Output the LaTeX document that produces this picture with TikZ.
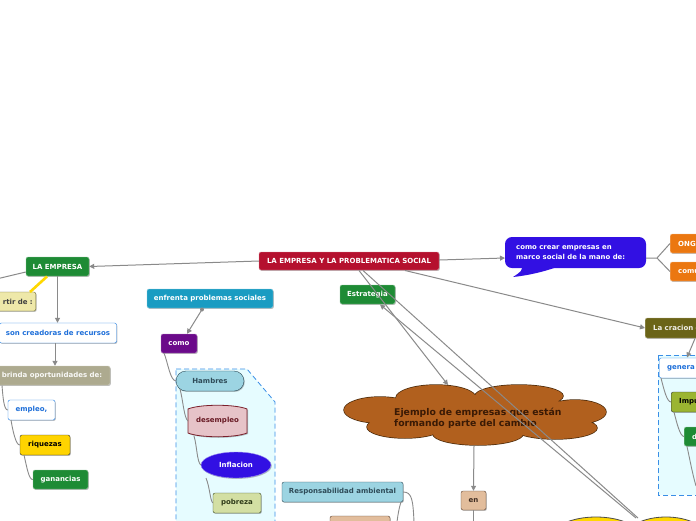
\documentclass[tikz,border=0pt]{standalone}
\usepackage{fontspec}
\setmainfont{DejaVu Sans}
\usetikzlibrary{arrows.meta,shadows,shapes.geometric}
\definecolor{crimson}{HTML}{B5102E}
\definecolor{mgreen}{HTML}{1E8B35}
\definecolor{khaki}{HTML}{EEE8A9}
\definecolor{khakib}{HTML}{6B6630}
\definecolor{brinda}{HTML}{ADAA8F}
\definecolor{bblue}{HTML}{1E7EE6}
\definecolor{tblue}{HTML}{1E6FD9}
\definecolor{gold}{HTML}{FFD400}
\definecolor{teal}{HTML}{1A9CC2}
\definecolor{purp}{HTML}{6B0A8A}
\definecolor{regfill}{HTML}{E6FCFF}
\definecolor{regline}{HTML}{3A8EE6}
\definecolor{lblue}{HTML}{9CD4E2}
\definecolor{lbluet}{HTML}{2E4B58}
\definecolor{pink}{HTML}{E6C3C8}
\definecolor{pinkb}{HTML}{7A1F2B}
\definecolor{violet}{HTML}{3210E3}
\definecolor{pgreen}{HTML}{D3DFA3}
\definecolor{pgreenb}{HTML}{3B4A20}
\definecolor{brown}{HTML}{B1601E}
\definecolor{brownb}{HTML}{4A2A0A}
\definecolor{brownt}{HTML}{3A1A05}
\definecolor{tan}{HTML}{E2BD9C}
\definecolor{tanb}{HTML}{5A4030}
\definecolor{orng}{HTML}{EB7710}
\definecolor{olive}{HTML}{6B6418}
\definecolor{impu}{HTML}{9BB531}
\definecolor{ylw}{HTML}{FFD700}
\definecolor{lineg}{HTML}{8A8A8A}
\tikzset{
  nd/.style={rectangle, rounded corners=2pt, inner sep=0pt,
    font=\bfseries\fontsize{7}{8}\selectfont,
    drop shadow={shadow xshift=0.8pt, shadow yshift=-0.9pt, opacity=0.25, fill=black}},
  edgebox/.style={nd, text width=#1, align=left, inner xsep=0pt},
  conn/.style={draw=lineg, line width=1pt},
  arr/.style={conn, -{Triangle[length=5pt,width=5pt]}},
  curv/.style={draw=lineg, line width=0.9pt},
  region/.style={draw=regline, fill=regfill, dash pattern=on 5pt off 3pt, line width=0.8pt},
}
\begin{document}
\begin{tikzpicture}[x=1pt,y=-1pt]
\useasboundingbox (0,0) rectangle (696,520);
\clip (0,0) rectangle (696,520);
\fill[white] (0,0) rectangle (696,520);

% regions
\path[region] (176,369) -- (247,369) -- (275,402) -- (275,530) -- (176,530) -- cycle;
\path[region] (658,355) -- (705,355) -- (705,495) -- (658,495) -- cycle;

% cloud
\begin{scope}
\def\cloudset{(436,398) ellipse [x radius=40, y radius=13]
  (519,396) ellipse [x radius=44, y radius=11]
  (380,410) ellipse [x radius=36, y radius=13]
  (575,412) ellipse [x radius=31, y radius=12]
  (405,427) ellipse [x radius=38, y radius=11]
  (478,434) ellipse [x radius=45, y radius=11]
  (555,428) ellipse [x radius=42, y radius=11]}
\draw[brownb, line width=1.4pt, fill=brown] \cloudset;
\fill[brown] \cloudset;
\fill[brown] (475,414) ellipse [x radius=112, y radius=19];
\end{scope}
\node[font=\bfseries\fontsize{9.3}{11}\selectfont, text=brownt, align=left, inner sep=0pt, anchor=west]
  (cloud) at (394,418.5) {Ejemplo de empresas que están\\formando parte del cambio};
\coordinate (cloudtop) at (448,385);
\coordinate (cloudbot) at (474,446);

% yellow ellipses
\draw[black!70, line width=0.8pt, fill=ylw] (596,537) ellipse [x radius=44, y radius=20];
\draw[black!70, line width=0.8pt, fill=ylw] (666,537) ellipse [x radius=40, y radius=20];
\coordinate (ylwtop) at (638,518);

% speech bubble
\fill[violet, rounded corners=7pt] (505,268) -- (505,237) -- (646,237) -- (646,268) -- cycle;
\fill[violet] (522,265) .. controls (522,271) .. (513,277) .. controls (532,275) and (550,270) .. (562,265) -- cycle;
\node[font=\bfseries\fontsize{6.9}{10}\selectfont, text=white, align=left, inner sep=0pt, anchor=west]
  (bubble) at (516,253) {como crear empresas en\\marco social de la mano de:};
\coordinate (bubW) at (505,258);
\coordinate (bubE) at (646,258);
\coordinate (bubJ) at (657,258);

% nodes
\node[nd, fill=crimson, draw=crimson!50!white, text=white, minimum width=180, minimum height=18] (main) at (349,261) {LA EMPRESA Y LA PROBLEMATICA SOCIAL};
\node[nd, fill=mgreen, draw=mgreen!50!white, text=white, minimum width=63, minimum height=19] (empresa) at (57.5,266.5) {LA EMPRESA};
\node[nd, fill=khaki, draw=khakib, text=black!75, minimum height=19, text width=50, align=right, inner xsep=3pt, anchor=east] (partir) at (36,301.5) {rtir de :};
\node[nd, fill=white, draw=bblue, text=tblue, minimum width=117, minimum height=20] (son) at (58,333) {son creadoras de recursos};
\node[nd, fill=brinda, draw=brinda!60!white, text=white!93!brinda, minimum width=116, minimum height=19] (brinda) at (52,375.5) {brinda oportunidades de:};
\node[nd, fill=white, draw=bblue, text=tblue, minimum width=47, minimum height=20] (empleo) at (31.5,410) {empleo,};
\node[nd, fill=gold, draw=black!80, text=black, minimum width=50, minimum height=20] (riquezas) at (45,445) {riquezas};
\node[nd, fill=mgreen, draw=mgreen!50!white, text=white, minimum width=55, minimum height=19] (ganancias) at (60.5,479.5) {ganancias};

\node[nd, fill=teal, draw=teal!50!white, text=white, minimum width=126, minimum height=19] (enfrenta) at (210,298.5) {enfrenta problemas sociales};
\node[nd, fill=purp, draw=purp!50!white, text=white, minimum width=36, minimum height=19] (como) at (179,343.5) {como};
\node[nd, rounded corners=10pt, fill=lblue, draw=lbluet, text=lbluet, minimum width=68, minimum height=20] (hambres) at (210,381) {Hambres};
\fill[black, opacity=0.25] (189,410) .. controls (201,405) and (236,405) .. (248,410) -- (248,434) .. controls (236,439) and (201,439) .. (189,434) -- cycle;
\draw[pinkb, line width=0.8pt, fill=pink] (188,409) .. controls (200,404) and (235,404) .. (247,409) -- (247,433) .. controls (235,438) and (200,438) .. (188,433) -- cycle;
\node[font=\bfseries\fontsize{7}{8}\selectfont, text=pinkb!85!black, inner sep=0pt] (desempleo) at (217.5,421) {desempleo};
\node[nd, ellipse, fill=violet, draw=violet!50!white, text=white, minimum width=70, minimum height=26] (inflacion) at (236,465) {Inflacion};
\node[nd, fill=pgreen, draw=pgreenb, text=pgreenb!80!black, minimum width=48, minimum height=20] (pobreza) at (237,503) {pobreza};

\node[nd, fill=mgreen, draw=mgreen!50!white, text=white, minimum width=55, minimum height=19] (estrategia) at (367.5,294.5) {Estrategia};
\node[nd, fill=tan, draw=tanb, text=tanb!70!black, minimum width=25, minimum height=19] (en) at (473.5,500.5) {en};
\node[nd, fill=lblue, draw=lbluet, text=lbluet, minimum width=121, minimum height=20] (resp) at (342.5,492) {Responsabilidad ambiental};
\node[nd, fill=tan, draw=tanb, minimum width=60, minimum height=24] (tanlow) at (360,528) {};

\node[edgebox=44, fill=orng, draw=orng!50!white, text=white, minimum height=19, anchor=west] (ong) at (670,243.5) {\hspace*{8pt}ONG};
\node[edgebox=44, fill=orng, draw=orng!50!white, text=white, minimum height=19, anchor=west] (comu) at (670,271.5) {\hspace*{8pt}comu};
\node[edgebox=70, fill=olive, draw=olive!50!white, text=white!90!olive, minimum height=20, anchor=west] (cracion) at (645,328) {\hspace*{8pt}La cracion d};
\node[edgebox=56, fill=white, draw=bblue, text=tblue, minimum height=20, anchor=west] (generan) at (659,368) {\hspace*{8pt}genera};
\node[edgebox=44, fill=impu, draw=black!80, text=black, minimum height=20, anchor=west] (impu) at (671,402) {\hspace*{8pt}Impu};
\node[edgebox=30, fill=mgreen, draw=mgreen!50!white, text=white, minimum height=19, anchor=west] (desa) at (684,436.5) {\hspace*{8pt}d};

% connectors
\coordinate (offleft) at (-12,281);
\draw[conn] (empresa.west |- 0,272) -- (offleft);
\draw[arr] (main.west) -- (empresa.east);
\draw[draw=gold!90!yellow, line width=2.6pt] (47,276.5) -- (30,292);
\draw[arr] (empresa.south) -- (son.north -| empresa.south);
\draw[arr] (55,343) -- (brinda.north -| 55,0);

\draw[curv] (2,385.5) .. controls (3,398) and (4,410) .. (empleo.west);
\draw[curv] (11,420) .. controls (13,432) and (16,445) .. (riquezas.west);
\draw[curv] (24,455) .. controls (27,468) and (29,480) .. (ganancias.west);

\fill[lineg] (202,309.5) circle (2pt);
\draw[arr] (202,309.5) -- (como.north -| 187,0);
\draw[curv] (164,353) .. controls (168,363) and (170,380) .. (hambres.west);
\draw[curv] (180,389) .. controls (183,400) and (184,418) .. (188,421);
\draw[curv] (194,436) .. controls (197,446) and (197,462) .. (inflacion.west);
\draw[curv] (206,478) .. controls (210,488) and (210,500) .. (pobreza.west);

\draw[arr] (359,270.5) -- (cloudtop);
\draw[conn] (363,270.5) -- (ylwtop);
\draw[arr] (636,518) -- (380,304.5);
\draw[arr] (cloudbot) -- (en.north);
\draw[conn] (en.south) -- (473.5,525);
\draw[curv] (resp.east) .. controls (412,492) and (413,500) .. (414,522);
\draw[curv] (401,502) .. controls (399,508) and (398,514) .. (397,522);

\draw[arr] (main.east |- 0,260) -- (bubW);
\draw[conn] (bubE) -- (bubJ) -- (ong.west);
\draw[conn] (bubJ) -- (comu.west);
\draw[arr] (405,270.5) -- (cracion.west);
\draw[arr] (695,338.5) -- (687,357.5);
\draw[curv] (661,378) .. controls (664,390) and (667,402) .. (impu.west);
\draw[curv] (674,412) .. controls (677,424) and (680,436) .. (desa.west);
\draw[curv] (687,446.5) .. controls (690,460) and (692,472) .. (696,486);
\end{tikzpicture}
\end{document}
